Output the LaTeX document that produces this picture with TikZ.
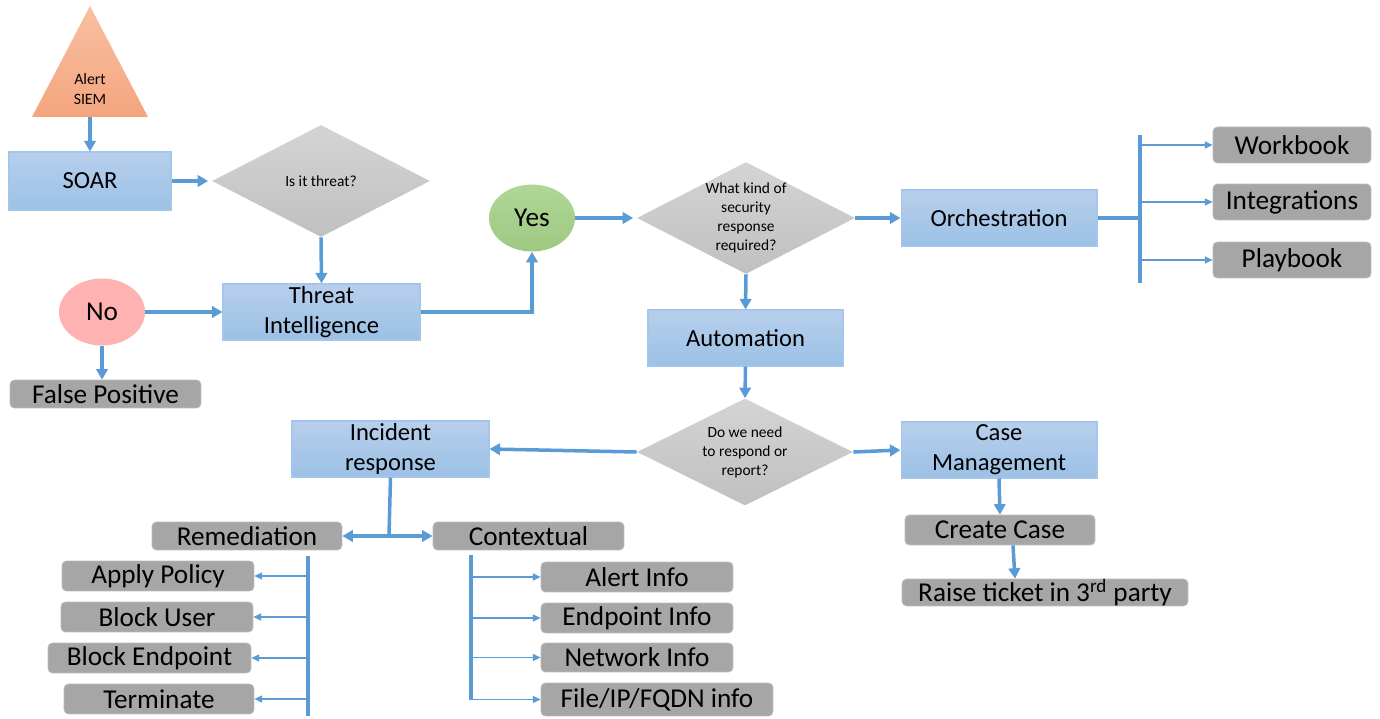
\documentclass[tikz,border=0pt]{standalone}
\usepackage{fontspec}
\setmainfont{Carlito}
\usetikzlibrary{arrows.meta,positioning,shapes.geometric}
\definecolor{flowblue}{RGB}{91,155,213}
\definecolor{boxgray}{RGB}{166,166,166}
\definecolor{bluetop}{RGB}{184,207,236}
\definecolor{bluebot}{RGB}{155,193,229}
\definecolor{blueedge}{RGB}{165,198,236}
\definecolor{dtop}{RGB}{212,212,212}
\definecolor{dbot}{RGB}{192,192,192}
\definecolor{nopink}{RGB}{255,178,178}
\definecolor{yestop}{RGB}{176,214,150}
\definecolor{yesbot}{RGB}{158,201,130}
\definecolor{alerttop}{RGB}{248,192,162}
\definecolor{alertbot}{RGB}{244,165,125}

\begin{document}
\begin{tikzpicture}[x=0.02cm,y=-0.02cm,
  every node/.style={text=black},
  bluebox/.style={draw=blueedge,line width=0.6pt,top color=bluetop,bottom color=bluebot,
    minimum width=3.92cm,minimum height=1.12cm,inner sep=0pt,align=center,
    font=\fontsize{14}{17}\selectfont},
  graybox/.style={rounded corners=2.5pt,fill=boxgray,draw=boxgray!75!white,
    minimum width=3.84cm,minimum height=0.6cm,inner sep=0pt,
    font=\fontsize{15.5}{18}\selectfont},
  decision/.style={diamond,draw=none,top color=dtop,bottom color=dbot,
    minimum width=4.36cm,minimum height=2.24cm,inner sep=0pt},
  qtext/.style={align=center,font=\fontsize{8.8}{10.8}\selectfont},
  answer/.style={ellipse,minimum width=1.72cm,minimum height=1.34cm,inner sep=0pt,
    font=\fontsize{15.5}{18}\selectfont},
  flow/.style={flowblue,line width=2pt,-{Triangle[length=6pt,width=6.5pt]}},
  thinflow/.style={flowblue,line width=0.85pt,-{Triangle[length=4.5pt,width=4pt]}},
  bus/.style={flowblue,line width=2pt}]
\useasboundingbox (0,0) rectangle (1380,719);

% alert source
\path[top color=alerttop,bottom color=alertbot] (90,6) -- (148,117) -- (32,117) -- cycle;
\node[align=center,font=\fontsize{9}{11}\selectfont] (alert) at (90,89) {Alert\\SIEM};
\coordinate (alertbase) at (90,117);

% first decision
\node[bluebox,minimum width=3.24cm,minimum height=1.16cm] (soar) at (90,181) {SOAR};
\node[decision,label={[qtext]center:Is it threat?}] (q1) at (321,181) {};
\node[bluebox,minimum width=3.94cm] (ti) at (321.5,312) {Threat\\Intelligence};
\node[answer,fill=nopink] (no) at (102,312) {No};
\node[graybox,minimum width=3.82cm,minimum height=0.56cm] (fp) at (105.5,394) {False Positive};
\node[answer,top color=yestop,bottom color=yesbot] (yes) at (532,218) {Yes};

% response type
\node[decision,label={[qtext]center:What kind of\\security\\response\\required?}] (q2) at (746,218) {};
\node[bluebox] (orch) at (999,218) {Orchestration};
\node[graybox,minimum width=3.16cm,minimum height=0.72cm] (wb) at (1292,145) {Workbook};
\node[graybox,minimum width=3.16cm,minimum height=0.72cm] (integ) at (1292,202) {Integrations};
\node[graybox,minimum width=3.16cm,minimum height=0.72cm] (pb) at (1292,260) {Playbook};
\coordinate (obus) at (1140,218);
\node[bluebox,minimum width=3.9cm] (auto) at (745.5,338) {Automation};

% respond or report
\node[decision,minimum width=4.32cm,minimum height=2.14cm,
  label={[qtext]center:Do we need\\to respond or\\report?}] (q3) at (745,452) {};
\node[bluebox,minimum width=3.94cm] (ir) at (390.5,449) {Incident\\response};
\node[bluebox] (cm) at (999,450) {Case\\Management};
\node[graybox,minimum width=3.8cm,minimum height=0.56cm] (rem) at (247,536) {Remediation};
\node[graybox,minimum width=3.82cm,minimum height=0.56cm] (ctx) at (528.5,536) {Contextual};
\coordinate (irj) at (389,535);

\node[graybox] (ap) at (158,576) {Apply Policy};
\node[graybox] (bu) at (157,617) {Block User};
\node[graybox,minimum width=4.06cm] (be) at (149.5,658) {Block Endpoint};
\node[graybox,minimum width=3.8cm] (te) at (159,699) {Terminate};
\coordinate (rbus) at (308,556);
\coordinate (rbusend) at (308,716);

\node[graybox] (ai) at (637,577) {Alert Info};
\node[graybox] (ei) at (637,618) {Endpoint Info};
\node[graybox,minimum height=0.58cm] (ni) at (637,657.5) {Network Info};
\node[graybox,minimum width=4.64cm,minimum height=0.66cm] (fi) at (657,699.5) {File/IP/FQDN info};
\coordinate (cbus) at (471,555);
\coordinate (cbusend) at (471,700);

\node[graybox,minimum width=3.8cm] (cc) at (1000,530) {Create Case};
\node[graybox,minimum width=5.72cm,minimum height=0.5cm] (rt) at (1045,592.5) {Raise ticket in 3\textsuperscript{rd} party};

% connectors
\draw[flow] (alertbase) -- (soar.north);
\draw[flow] (soar.east) -- ([xshift=-2pt]q1.west);
\draw[flow] (q1.south) -- (ti.north);
\draw[flow] (no.east) -- (ti.west);
\draw[flow] (no.south) -- (no.south |- fp.north);
\draw[flow] (ti.east) -| (yes.south);
\draw[flow] (yes.east) -- ([xshift=-2pt]q2.west);
\draw[flow] (q2.east) -- (orch.west);
\draw[bus] (orch.east) -- (obus);
\draw[bus] (1140,135) -- (1140,283);
\foreach \n in {wb,integ,pb}
  \draw[thinflow] (obus |- \n.west) -- (\n.west);
\draw[flow] (q2.south) -- (auto.north);
\draw[flow] (auto.south) -- (q3.north);
\draw[flow] (q3.west) -- (ir.east);
\draw[flow] (q3.east) -- (cm.west);
\draw[bus] (ir.south) -- (irj);
\draw[flow,{Triangle[length=6pt,width=6.5pt]}-{Triangle[length=6pt,width=6.5pt]}] (rem.east) -- (ctx.west);
\draw[bus] (rbus) -- (rbusend);
\foreach \n in {ap,bu,be,te}
  \draw[thinflow] (rbus |- \n.east) -- (\n.east);
\draw[bus] (cbus) -- (cbusend);
\foreach \n in {ai,ei,ni,fi}
  \draw[thinflow] (cbus |- \n.west) -- (\n.west);
\draw[flow] (cm.south) -- (cc.north);
\draw[flow] ([xshift=0.26cm]cc.south) -- ([xshift=-0.6cm]rt.north);
\end{tikzpicture}
\end{document}
